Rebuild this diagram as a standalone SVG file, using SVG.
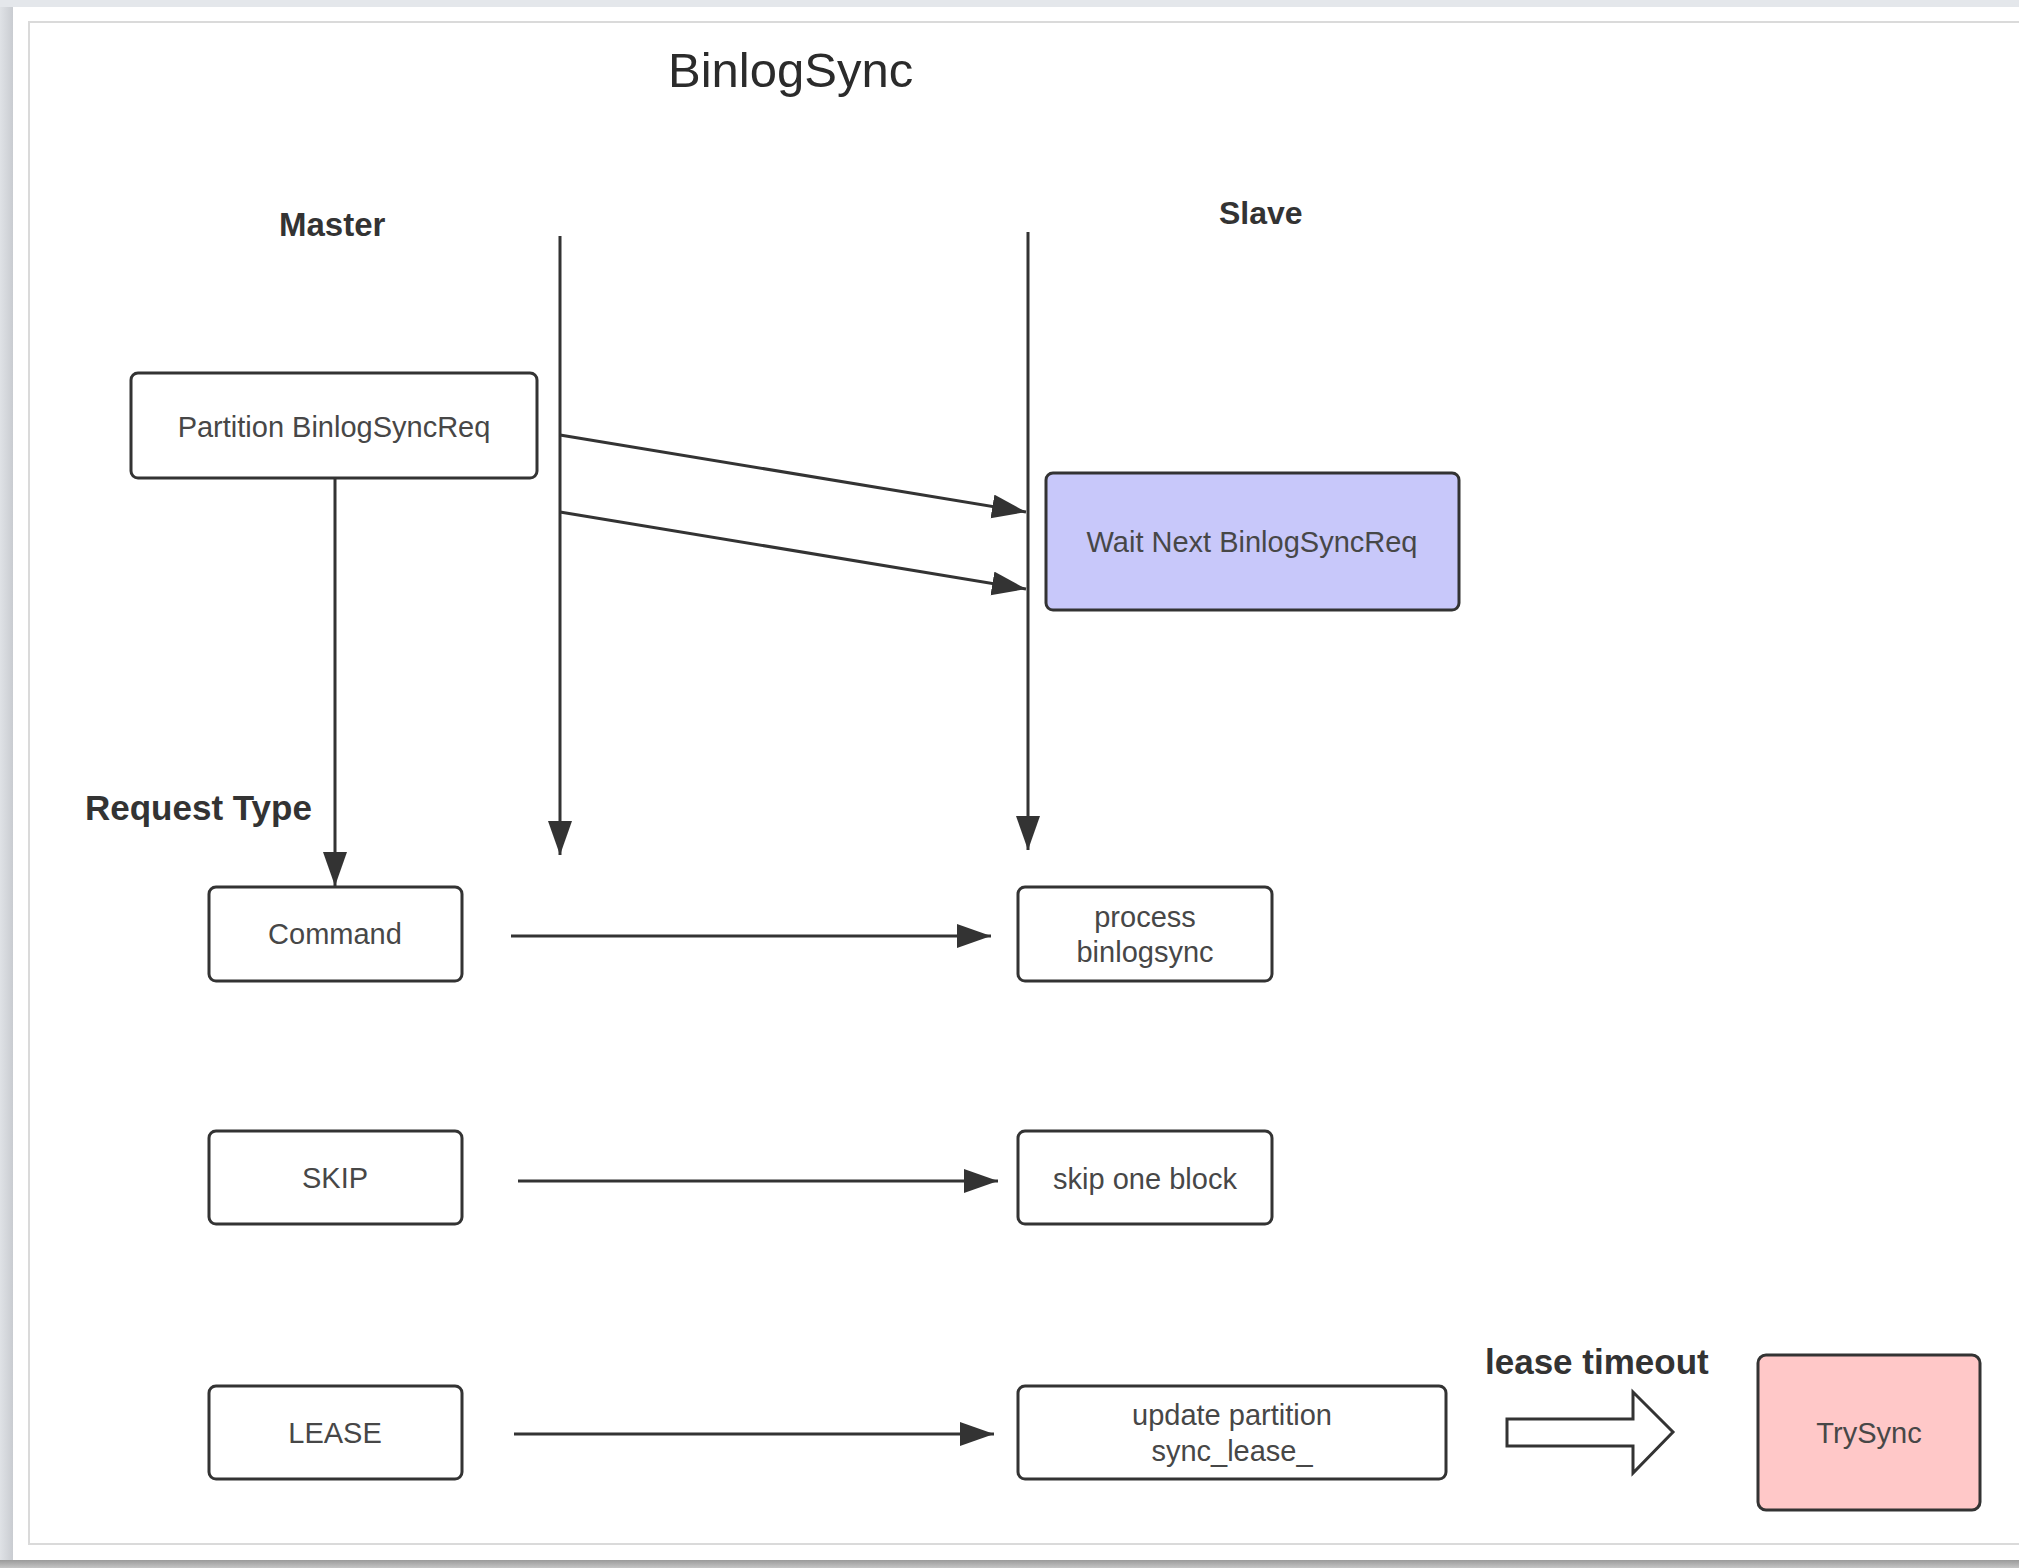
<svg xmlns="http://www.w3.org/2000/svg" width="2019" height="1568" viewBox="0 0 2019 1568">
  <defs>
    <style>
      .node rect { stroke: #333333; stroke-width: 3; }
      .plain { fill: #ffffff; }
      .ntext { font-family: "Liberation Sans", Arial, sans-serif; font-size: 29px; fill: #474747; text-anchor: middle; }
      .label { font-family: "Liberation Sans", Arial, sans-serif; font-weight: bold; fill: #333333; }
      .conn line { stroke: #333333; stroke-width: 3; fill: none; }
    </style>
    <marker id="ah" markerUnits="userSpaceOnUse" markerWidth="36" markerHeight="26" refX="34" refY="12" orient="auto">
      <path d="M0,0 L34,12 L0,24 Z" fill="#333333"/>
    </marker>
    <linearGradient id="leftShade" x1="0" y1="0" x2="1" y2="0">
      <stop offset="0" stop-color="#dfe2e6"/>
      <stop offset="1" stop-color="#c9ccd1"/>
    </linearGradient>
    <linearGradient id="botShade" x1="0" y1="0" x2="0" y2="1">
      <stop offset="0" stop-color="#9a9a9a"/>
      <stop offset="1" stop-color="#c4c4c4"/>
    </linearGradient>
  </defs>

  <!-- frame -->
  <rect x="0" y="0" width="2019" height="1568" fill="#e4e7eb"/>
  <rect x="0" y="7" width="13" height="1561" fill="url(#leftShade)"/>
  <rect x="13" y="7" width="2006" height="1553" fill="#ffffff"/>
  <rect x="0" y="1560" width="2019" height="8" fill="url(#botShade)"/>
  <path d="M2019,22 L29,22 L29,1544 L2019,1544" fill="none" stroke="#dadada" stroke-width="2"/>

  <!-- labels -->
  <text x="668" y="87" font-family="Liberation Sans, Arial, sans-serif" font-size="49" fill="#2b2b2b">BinlogSync</text>
  <text class="label" x="279" y="236" font-size="33">Master</text>
  <text class="label" x="1219" y="224" font-size="32">Slave</text>
  <text class="label" x="85" y="820" font-size="35">Request Type</text>
  <text class="label" x="1485" y="1374" font-size="35">lease timeout</text>

  <!-- nodes -->
  <g id="partition-req" class="node">
    <rect class="plain" x="131" y="373" width="406" height="105" rx="7"/>
    <text class="ntext" x="334" y="437">Partition BinlogSyncReq</text>
  </g>
  <g id="wait-next" class="node">
    <rect x="1046" y="473" width="413" height="137" rx="7" fill="#c8c8fa"/>
    <text class="ntext" x="1252" y="552">Wait Next BinlogSyncReq</text>
  </g>
  <g id="command" class="node">
    <rect class="plain" x="209" y="887" width="253" height="94" rx="7"/>
    <text class="ntext" x="335" y="944">Command</text>
  </g>
  <g id="process-binlogsync" class="node">
    <rect class="plain" x="1018" y="887" width="254" height="94" rx="7"/>
    <text class="ntext" x="1145" y="927">process</text>
    <text class="ntext" x="1145" y="962">binlogsync</text>
  </g>
  <g id="skip" class="node">
    <rect class="plain" x="209" y="1131" width="253" height="93" rx="7"/>
    <text class="ntext" x="335" y="1188">SKIP</text>
  </g>
  <g id="skip-one-block" class="node">
    <rect class="plain" x="1018" y="1131" width="254" height="93" rx="7"/>
    <text class="ntext" x="1145" y="1189">skip one block</text>
  </g>
  <g id="lease" class="node">
    <rect class="plain" x="209" y="1386" width="253" height="93" rx="7"/>
    <text class="ntext" x="335" y="1443">LEASE</text>
  </g>
  <g id="update-partition" class="node">
    <rect class="plain" x="1018" y="1386" width="428" height="93" rx="7"/>
    <text class="ntext" x="1232" y="1425">update partition</text>
    <text class="ntext" x="1232" y="1461">sync_lease_</text>
  </g>
  <g id="trysync" class="node">
    <rect x="1758" y="1355" width="222" height="155" rx="8" fill="#ffc8c8"/>
    <text class="ntext" x="1869" y="1443">TrySync</text>
  </g>

  <!-- connectors -->
  <g id="connectors" class="conn">
    <line x1="560" y1="236" x2="560" y2="855" marker-end="url(#ah)"/>
    <line x1="1028" y1="232" x2="1028" y2="850" marker-end="url(#ah)"/>
    <line x1="335" y1="478" x2="335" y2="886" marker-end="url(#ah)"/>
    <line x1="560" y1="435" x2="1026" y2="512" marker-end="url(#ah)"/>
    <line x1="560" y1="512" x2="1026" y2="589" marker-end="url(#ah)"/>
    <line x1="511" y1="936" x2="991" y2="936" marker-end="url(#ah)"/>
    <line x1="518" y1="1181" x2="998" y2="1181" marker-end="url(#ah)"/>
    <line x1="514" y1="1434" x2="994" y2="1434" marker-end="url(#ah)"/>
    <path d="M1507,1419 L1633,1419 L1633,1392 L1673,1432 L1633,1473 L1633,1446 L1507,1446 Z" fill="#ffffff" stroke="#333333" stroke-width="3" stroke-linejoin="miter"/>
  </g>
</svg>
